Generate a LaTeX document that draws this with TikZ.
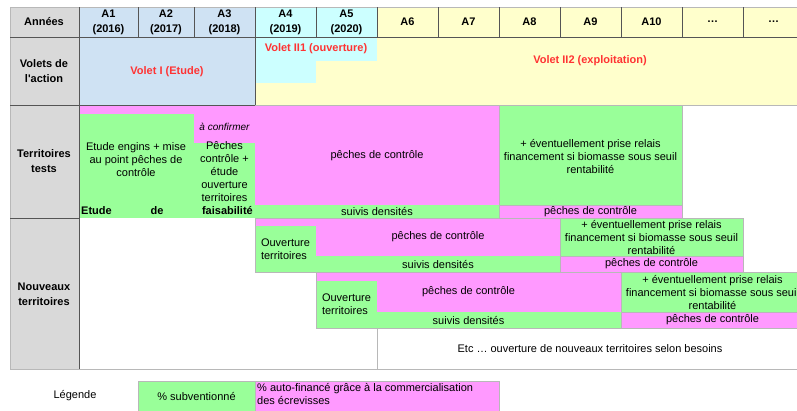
\documentclass[tikz,border=0pt]{standalone}
\usepackage{fontspec}
\setmainfont{Liberation Sans}[Ligatures=TeXOff]
\definecolor{gr}{HTML}{99FF99}
\definecolor{mg}{HTML}{FF99FF}
\definecolor{cy}{HTML}{CCFFFF}
\definecolor{yl}{HTML}{FFFFCC}
\definecolor{bl}{HTML}{CFE2F3}
\definecolor{gy}{HTML}{D9D9D9}
\definecolor{rd}{HTML}{FF3333}
\definecolor{dk}{HTML}{555555}
\definecolor{lt}{HTML}{B8B8B8}
\begin{document}
\begin{tikzpicture}[x=1pt,y=-1pt,
 txt/.style={font=\fontsize{11}{13}\selectfont, align=center, inner sep=0pt},
 bld/.style={font=\fontsize{11}{15}\selectfont\bfseries, align=center, inner sep=0pt},
 volet/.style={font=\fontsize{11}{13}\selectfont\bfseries, text=rd, inner sep=0pt},
 outl/.style={draw=lt, line width=0.4pt},
 dline/.style={draw=dk, line width=0.8pt},
 lline/.style={draw=lt, line width=0.6pt}
]
\useasboundingbox (0,0) rectangle (797,410);
\begin{scope}
\clip (0,0) rectangle (797,410);
% backgrounds
\fill[gy] (10,7) rectangle (79,369);
\fill[bl] (79,7) rectangle (255,37);
\fill[cy] (255,7) rectangle (377,37);
\fill[yl] (377,7) rectangle (804,37);
\fill[bl] (79,37) rectangle (255,105);
\fill[yl] (255,37) rectangle (804,105);
\fill[cy] (255,37) rectangle (377,61);
\fill[cy] (255,61) rectangle (316,83);
% territoires tests
\fill[mg] (79,105) rectangle (499,205);
\fill[gr] (79,114) rectangle (194,218);
\fill[gr] (194,143) rectangle (255,218);
\fill[gr] (255,205) rectangle (499,218);
\fill[gr] (499,105) rectangle (682,205);
\fill[mg] (499,205) rectangle (682,218);
\path[outl] (499,105) rectangle (682,205);
\path[outl] (499,205) rectangle (682,218);
% nouveaux territoires 1
\fill[mg] (255,218) rectangle (560,256);
\fill[gr] (255,256) rectangle (560,272);
\fill[gr] (255,226) rectangle (316,272);
\fill[gr] (560,218) rectangle (743,256);
\fill[mg] (560,256) rectangle (743,272);
\path[outl] (255,218) rectangle (560,272);
\path[outl] (560,218) rectangle (743,256);
\path[outl] (560,256) rectangle (743,272);
% nouveaux territoires 2
\fill[mg] (316,272) rectangle (621,312);
\fill[gr] (316,312) rectangle (621,328);
\fill[gr] (316,281) rectangle (377,328);
\fill[gr] (621,272) rectangle (804,312);
\fill[mg] (621,312) rectangle (804,328);
\path[outl] (316,272) rectangle (621,328);
\path[outl] (621,272) rectangle (804,312);
\path[outl] (621,312) rectangle (804,328);
% grid lines
\path[lline] (10,7) -- (804,7);
\path[lline] (10,7) -- (10,369);
\path[lline] (10,369) -- (804,369);
\path[lline] (255,105) -- (804,105);
\path[lline] (377,328) -- (377,369);
\foreach \x in {138,194,255,316,377,438,499,560,621,682,743}
  \path[dline] (\x,7) -- (\x,37);
\path[dline] (10,37) -- (804,37);
\path[dline] (79,7) -- (79,369);
\path[dline] (10,105) -- (255,105);
\path[dline] (255,37) -- (255,105);
\path[dline] (10,218) -- (79,218);
\end{scope}
% header texts
\node[bld] (annees) at (44,22) {Années};
\node[bld] (a1) at (108.5,22.5) {A1\\(2016)};
\node[bld] (a2) at (166,22.5) {A2\\(2017)};
\node[bld] (a3) at (224.5,22.5) {A3\\(2018)};
\node[bld] (a4) at (285.5,22.5) {A4\\(2019)};
\node[bld] (a5) at (346.5,22.5) {A5\\(2020)};
\node[bld] (a6) at (407.5,22) {A6};
\node[bld] (a7) at (468.5,22) {A7};
\node[bld] (a8) at (529.5,22) {A8};
\node[bld] (a9) at (590.5,22) {A9};
\node[bld] (a10) at (651.5,22) {A10};
\node[bld] (d1) at (712.5,22) {\dots};
\node[bld] (d2) at (773.5,22) {\dots};
% left column
\node[bld] (volets) at (44,71) {Volets de\\l'action};
\node[bld] (tt) at (44,161) {Territoires\\tests};
\node[bld] (nt) at (44,294) {Nouveaux\\territoires};
% volets
\node[volet] (v1) at (167,72) {Volet I (Etude)};
\node[volet] (v21) at (316,49) {Volet II1 (ouverture)};
\node[volet] (v22) at (590,61) {Volet II2 (exploitation)};
% territoires tests
\node[txt] (etude) at (136,160) {Etude engins + mise\\au point pêches de\\contrôle};
\node[txt, font=\fontsize{10}{13}\selectfont\itshape] (conf) at (224.5,127) {à confirmer};
\node[txt] (peches1) at (224.5,172) {Pêches\\contrôle +\\étude\\ouverture\\territoires};
\node[bld, anchor=west] (fa) at (81,211) {Etude};
\node[bld] (fb) at (157,211) {de};
\node[bld, anchor=east] (fc) at (253,211) {faisabilité};
\node[txt] (pc1) at (377,156) {pêches de contrôle};
\node[txt] (sd1) at (377,211.5) {suivis densités};
\node[txt] (ev1) at (590.5,156) {+ éventuellement prise relais\\financement si biomasse sous seuil\\rentabilité};
\node[txt] (pc1b) at (590.5,211.5) {pêches de contrôle};
% nouveaux 1
\node[txt, align=left] (ouv1) at (285.5,249) {Ouverture\\territoires};
\node[txt] (pc2) at (438,237) {pêches de contrôle};
\node[txt] (sd2) at (438,264) {suivis densités};
\node[txt] (ev2) at (651.5,237) {+ éventuellement prise relais\\financement si biomasse sous seuil\\rentabilité};
\node[txt] (pc2b) at (651.5,264) {pêches de contrôle};
% nouveaux 2
\node[txt, align=left] (ouv2) at (346.5,304) {Ouverture\\territoires};
\node[txt] (pc3) at (468.5,292) {pêches de contrôle};
\node[txt] (sd3) at (468.5,320) {suivis densités};
\node[txt] (ev3) at (712.5,292) {+ éventuellement prise relais\\financement si biomasse sous seuil\\rentabilité};
\node[txt] (pc3b) at (712.5,320) {pêches de contrôle};
\node[txt] (etc) at (590,349) {Etc … ouverture de nouveaux territoires selon besoins};
% legend
\node[txt] (leg) at (75,396) {Légende};
\fill[gr] (138,381) rectangle (255,412);
\fill[mg] (255,381) rectangle (499,412);
\path[outl] (138,381) rectangle (255,412);
\path[outl] (255,381) rectangle (499,412);
\node[txt] (sub) at (196.5,396) {\% subventionné};
\node[txt, align=left, anchor=north west, font=\fontsize{11}{13}\selectfont] (auto) at (257,383) {\% auto-financé grâce à la commercialisation\\des écrevisses};
\end{tikzpicture}
\end{document}
